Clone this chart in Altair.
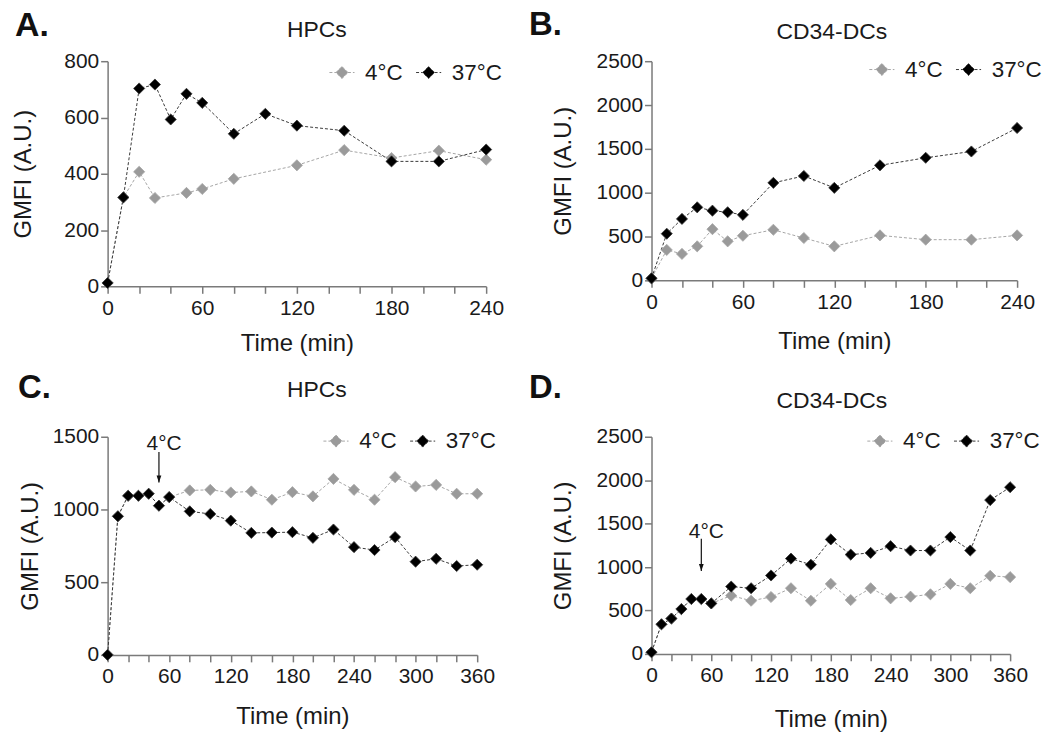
import altair as alt
import pandas as pd

FONT = "Liberation Sans"
SERIES = ["4°C", "37°C"]
FILL_RANGE = ["#9a9a9a", "#000000"]
STROKE_RANGE = ["#a6a6a6", "#3a3a3a"]

# ---------------- Panel A : HPCs, 0-240 min ----------------
A_TIME_37 = [0, 10, 20, 30, 40, 50, 60, 80, 100, 120, 150, 180, 210, 240]
A_GMFI_37 = [12, 316, 703, 717, 593, 684, 652, 542, 613, 571, 553, 444, 444, 486]
A_TIME_4 = [0, 10, 20, 30, 50, 60, 80, 120, 150, 180, 210, 240]
A_GMFI_4 = [12, 316, 407, 314, 332, 346, 382, 430, 484, 456, 482, 450]

# ---------------- Panel B : CD34-DCs, 0-240 min ----------------
B_TIME = [0, 10, 20, 30, 40, 50, 60, 80, 100, 120, 150, 180, 210, 240]
B_GMFI_37 = [23, 532, 701, 833, 795, 777, 747, 1112, 1191, 1055, 1312, 1398, 1470, 1738]
B_GMFI_4 = [23, 347, 302, 388, 584, 445, 509, 577, 483, 388, 513, 464, 464, 513]

# ---------------- Panel C : HPCs, 0-360 min ----------------
C_TIME = [0, 10, 20, 30, 40, 50, 60, 80, 100, 120, 140, 160, 180, 200, 220,
          240, 260, 280, 300, 320, 340, 360]
C_GMFI_37 = [0, 953, 1094, 1094, 1108, 1026, 1085, 987, 969, 923, 839, 841, 844,
             805, 862, 741, 721, 810, 641, 661, 611, 620]
C_GMFI_4 = [0, 953, 1094, 1094, 1108, 1026, 1085, 1131, 1135, 1117, 1124, 1067,
            1119, 1090, 1210, 1135, 1067, 1222, 1158, 1169, 1108, 1108]

# ---------------- Panel D : CD34-DCs, 0-360 min ----------------
D_TIME = [0, 10, 20, 30, 40, 50, 60, 80, 100, 120, 140, 160, 180, 200, 220,
          240, 260, 280, 300, 320, 340, 360]
D_GMFI_37 = [19, 341, 407, 516, 632, 632, 581, 775, 756, 903, 1097, 1027, 1318,
             1143, 1163, 1240, 1190, 1190, 1345, 1190, 1771, 1919]
D_GMFI_4 = [19, 341, 407, 516, 632, 632, 581, 671, 612, 655, 756, 612, 806,
            620, 756, 640, 659, 686, 806, 756, 899, 884]

# ticks
X_TICKS_240 = [0, 20, 40, 60, 80, 100, 120, 140, 160, 180, 200, 220, 240]
X_TICKS_360 = [0, 20, 40, 60, 80, 100, 120, 140, 160, 180, 200, 220, 240, 260,
               280, 300, 320, 340, 360]
Y_TICKS_A = [0, 200, 400, 600, 800]
Y_TICKS_B = [0, 500, 1000, 1500, 2000, 2500]
Y_TICKS_C = [0, 500, 1000, 1500]
Y_TICKS_D = [0, 500, 1000, 1500, 2000, 2500]

# "4°C" transfer annotation (arrow in data units)
ARROW_C = {"time": [50], "top": [1395], "tip": [1185], "label_time": [55], "label_value": [1411]}
ARROW_D = {"time": [50], "top": [1325], "tip": [955], "label_time": [55], "label_value": [1337]}

LEGEND_PATH = "M-2.1,0L-1,0M1,0L2.1,0M0,-1L1,0L0,1L-1,0Z"
ARROWHEAD_PATH = "M-0.6,-1.75L0.6,-1.75L0,0Z"
INK = "#1a1a1a"
AXIS_GRAY = "#7a7a7a"


def panel(t4, v4, t37, v37, letter, name, xticks, yticks, w, h,
          lx, ly, name_x, name_y, letter_x, letter_y, letter_size,
          ytitle_x, xtitle_y, arrow=None):
    df = pd.DataFrame({
        "series": [SERIES[0]] * len(t4) + [SERIES[1]] * len(t37),
        "time": list(t4) + list(t37),
        "gmfi": list(v4) + list(v37),
    })
    xaxis = alt.Axis(values=xticks, title="Time (min)", grid=False,
                     labelExpr="datum.value % 60 == 0 ? datum.label : ''",
                     tickSize=7, tickWidth=1.5, domainWidth=1.5,
                     domainColor=AXIS_GRAY, tickColor=AXIS_GRAY,
                     labelPadding=4, labelFontSize=21, labelFont=FONT,
                     labelColor=INK, labelFlush=False, labelOverlap=False,
                     titleFont=FONT, titleFontSize=24, titleFontWeight="normal",
                     titleColor=INK, titleY=xtitle_y, titleBaseline="alphabetic")
    yaxis = alt.Axis(values=yticks, title="GMFI (A.U.)", grid=False, format="d",
                     tickSize=7, tickWidth=1.5, domainWidth=1.5,
                     domainColor=AXIS_GRAY, tickColor=AXIS_GRAY,
                     labelPadding=2, labelFontSize=21, labelFont=FONT,
                     labelColor=INK, labelFlush=False, labelOverlap=False,
                     titleFont=FONT, titleFontSize=24, titleFontWeight="normal",
                     titleColor=INK, titleX=ytitle_x, titleY=h / 2,
                     titleBaseline="alphabetic")
    xscale = alt.Scale(domain=[0, xticks[-1]], nice=False, zero=False)
    yscale = alt.Scale(domain=[0, yticks[-1]], nice=False)
    legend = alt.Legend(title=None, orient="none", legendX=lx, legendY=ly,
                        direction="horizontal", symbolType=LEGEND_PATH,
                        symbolSize=144, symbolStrokeWidth=1, symbolDash=[3, 2],
                        labelFont=FONT, labelFontSize=22.5, labelColor=INK,
                        labelOffset=12, columnPadding=10, padding=0)
    fill_scale = alt.Scale(domain=SERIES, range=FILL_RANGE)
    stroke_scale = alt.Scale(domain=SERIES, range=STROKE_RANGE)

    x = alt.X("time:Q", scale=xscale, axis=xaxis)
    y = alt.Y("gmfi:Q", scale=yscale, axis=yaxis)

    lines = alt.Chart(df).mark_line(strokeWidth=1, strokeDash=[3, 2]).encode(
        x=x, y=y,
        stroke=alt.Stroke("series:N", scale=stroke_scale, legend=legend),
    )
    points = alt.Chart(df).mark_point(shape="diamond", filled=True, size=125,
                                      opacity=1, strokeWidth=0.8).encode(
        x=x, y=y,
        fill=alt.Fill("series:N", scale=fill_scale, legend=legend),
        stroke=alt.Stroke("series:N", scale=stroke_scale, legend=legend),
    )

    text_df = pd.DataFrame({"label": [letter], "name": [name]})
    letter_layer = alt.Chart(text_df).mark_text(
        align="left", baseline="top", font=FONT, fontSize=letter_size,
        fontWeight="bold", color="#111111",
    ).encode(text="label:N", x=alt.value(letter_x), y=alt.value(letter_y))
    name_layer = alt.Chart(text_df).mark_text(
        align="center", baseline="alphabetic", font=FONT, fontSize=23,
        color=INK,
    ).encode(text="name:N", x=alt.value(name_x), y=alt.value(name_y))

    layers = [lines, points]
    if arrow is not None:
        adf = pd.DataFrame(arrow)
        ax = alt.X("time:Q", scale=xscale, axis=xaxis)
        shaft = alt.Chart(adf).mark_rule(color="#111111", strokeWidth=1.2).encode(
            x=ax, y=alt.Y("top:Q", scale=yscale, axis=yaxis), y2="tip:Q")
        head = alt.Chart(adf).mark_point(shape=ARROWHEAD_PATH, filled=True,
                                         size=64, opacity=1, color="#111111").encode(
            x=ax, y=alt.Y("tip:Q", scale=yscale, axis=yaxis))
        label = alt.Chart(adf).mark_text(text="4°C", font=FONT, fontSize=21,
                                         align="center", baseline="alphabetic",
                                         color=INK).encode(
            x=alt.X("label_time:Q", scale=xscale, axis=xaxis),
            y=alt.Y("label_value:Q", scale=yscale, axis=yaxis))
        layers += [shaft, head, label]
    layers += [letter_layer, name_layer]

    return alt.layer(*layers).properties(width=w, height=h)


pA = panel(A_TIME_4, A_GMFI_4, A_TIME_37, A_GMFI_37, "A.", "HPCs",
           X_TICKS_240, Y_TICKS_A, 380, 226, 224, 0, 210, -24,
           -93, -52, 34, -77, 64)
pB = panel(B_TIME, B_GMFI_4, B_TIME, B_GMFI_37, "B.", "CD34-DCs",
           X_TICKS_240, Y_TICKS_B, 367, 220, 220, -3, 181, -22,
           -123, -52, 33, -81, 68)
pC = panel(C_TIME, C_GMFI_4, C_TIME, C_GMFI_37, "C.", "HPCs",
           X_TICKS_360, Y_TICKS_C, 371, 219, 218, -7, 210, -40,
           -90, -65, 33, -70, 69, arrow=ARROW_C)
pD = panel(D_TIME, D_GMFI_4, D_TIME, D_GMFI_37, "D.", "CD34-DCs",
           X_TICKS_360, Y_TICKS_D, 360, 218, 218, -7, 181, -29,
           -123, -65, 33, -81, 73, arrow=ARROW_D)

chart = alt.concat(pA, pB, pC, pD, columns=2, bounds="flush",
                   spacing={"row": 151, "column": 166}).resolve_scale(
    fill="independent", stroke="independent",
).resolve_legend(
    fill="independent", stroke="independent",
).properties(
    padding={"left": 3, "top": 0, "right": 0, "bottom": 0},
    background="white",
).configure_view(stroke=None)

chart.save("out.html", embed_options={"renderer": "svg", "actions": False})
